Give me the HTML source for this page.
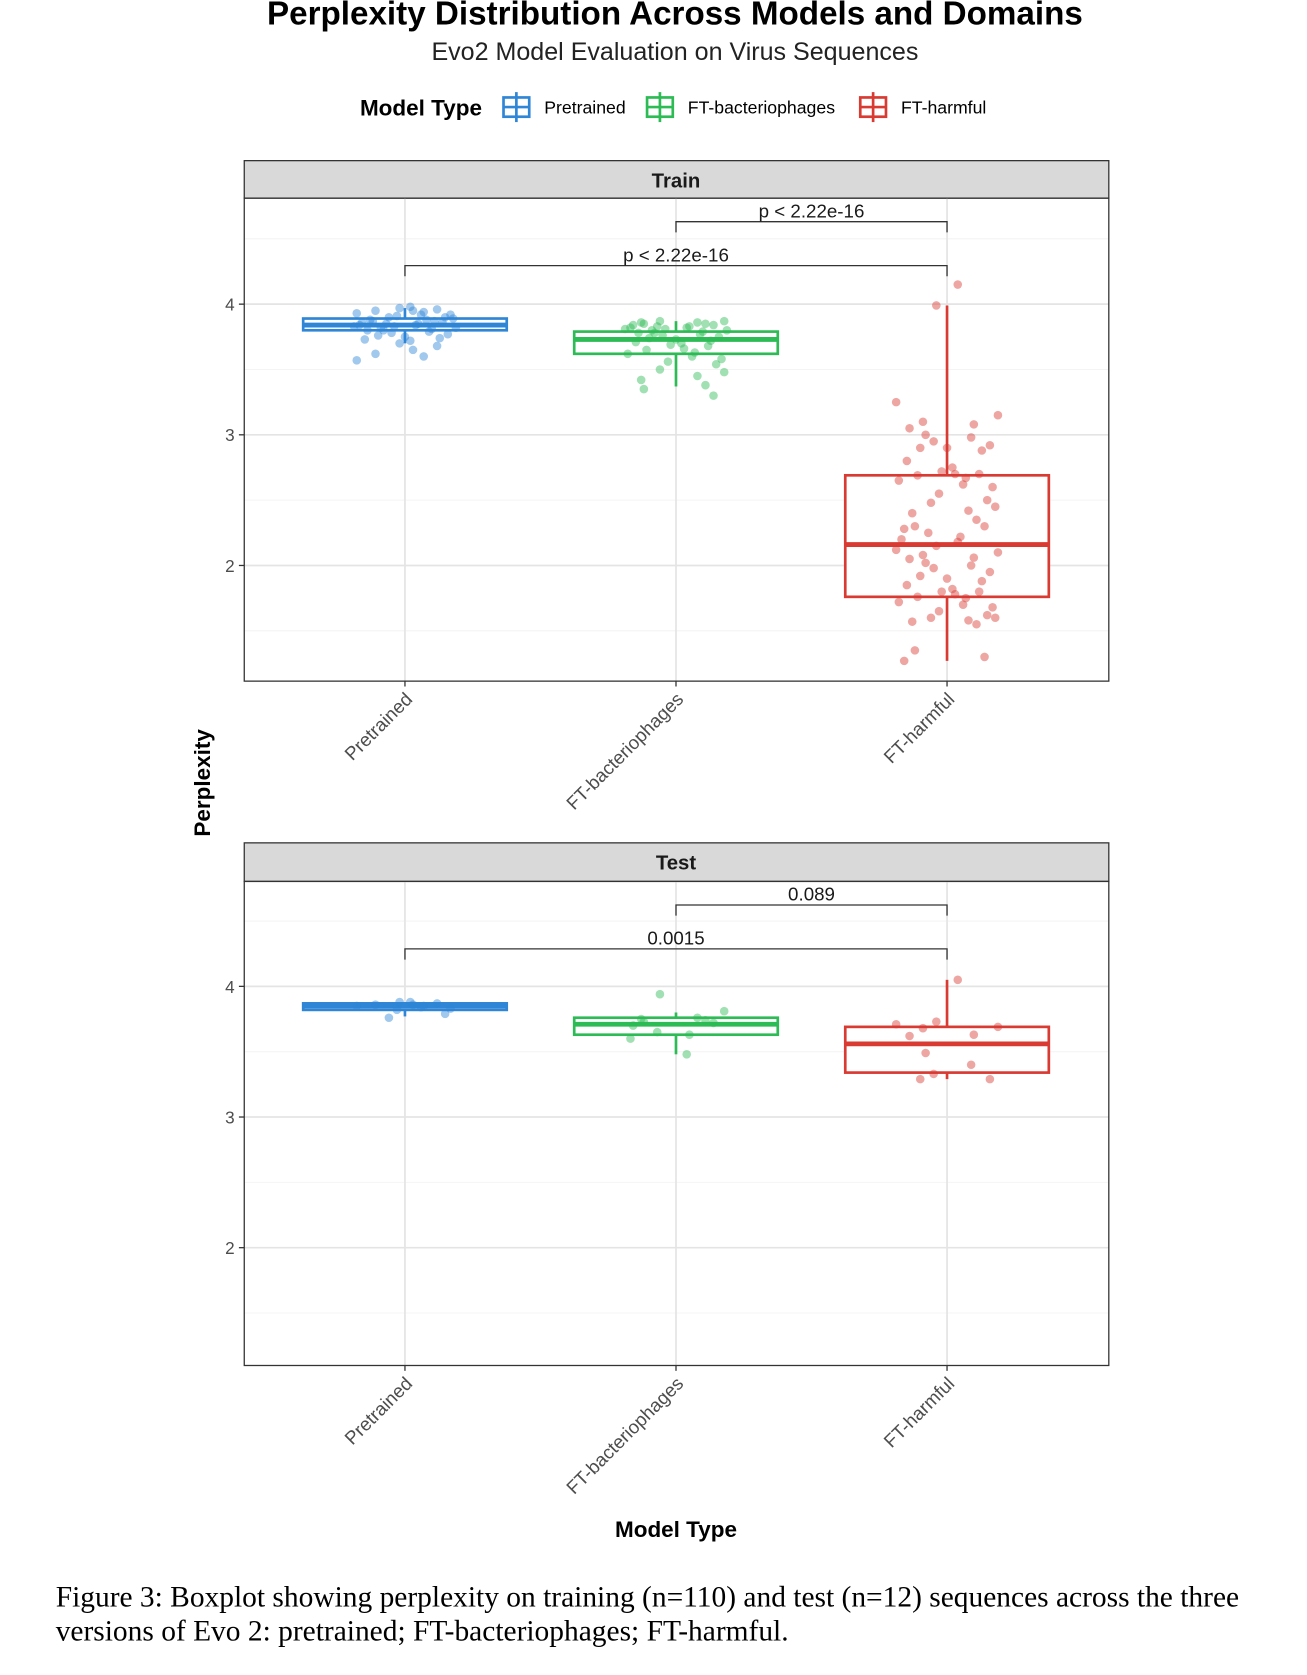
<!DOCTYPE html>
<html><head><meta charset="utf-8">
<style>
html,body{margin:0;padding:0;background:#fff;}
svg{display:block;}
text{font-family:"Liberation Sans",sans-serif;}
.cap{font-family:"Liberation Serif",serif;font-size:27.5px;fill:#000;}
</style></head>
<body>
<svg id="chart" width="1307" height="1675" viewBox="0 0 1220 1564" preserveAspectRatio="none" xmlns="http://www.w3.org/2000/svg">
<text x="630" y="23" text-anchor="middle" font-size="31" font-weight="bold">Perplexity Distribution Across Models and Domains</text>
<text x="630" y="56" text-anchor="middle" font-size="23.4" fill="#222">Evo2 Model Evaluation on Virus Sequences</text>
<g>
<text x="336" y="108" font-size="21" font-weight="bold">Model Type</text>
<g><rect x="470" y="91" width="24" height="18" fill="none" stroke="#2f86d6" stroke-width="2.5"/><line x1="482" y1="86" x2="482" y2="114" stroke="#2f86d6" stroke-width="2.5"/><line x1="470" y1="100" x2="494" y2="100" stroke="#2f86d6" stroke-width="2.5"/><text x="508" y="106" font-size="16.5">Pretrained</text></g>
<g><rect x="604" y="91" width="24" height="18" fill="none" stroke="#2dbb55" stroke-width="2.5"/><line x1="616" y1="86" x2="616" y2="114" stroke="#2dbb55" stroke-width="2.5"/><line x1="604" y1="100" x2="628" y2="100" stroke="#2dbb55" stroke-width="2.5"/><text x="642" y="106" font-size="16.5">FT-bacteriophages</text></g>
<g><rect x="803" y="91" width="24" height="18" fill="none" stroke="#d93a32" stroke-width="2.5"/><line x1="815" y1="86" x2="815" y2="114" stroke="#d93a32" stroke-width="2.5"/><line x1="803" y1="100" x2="827" y2="100" stroke="#d93a32" stroke-width="2.5"/><text x="841" y="106" font-size="16.5">FT-harmful</text></g>
</g>
<text transform="translate(196,731) rotate(-90)" text-anchor="middle" font-size="21" font-weight="bold">Perplexity</text>
<text x="631" y="1435" text-anchor="middle" font-size="21" font-weight="bold">Model Type</text>
<text class="cap" x="52" y="1500">Figure 3: Boxplot showing perplexity on training (n=110) and test (n=12) sequences across the three</text>
<text class="cap" x="52" y="1532">versions of Evo 2: pretrained; FT-bacteriophages; FT-harmful.</text>
</svg>
<script>
const categories = ["Pretrained", "FT-bacteriophages", "FT-harmful"];
const colors = ["#2f86d6", "#2dbb55", "#d93a32"];
const yTicks = [2, 3, 4];
// box stats: [lowWhisker, q1, median, q3, highWhisker]
const trainStats = [[3.70, 3.80, 3.84, 3.89, 3.97], [3.37, 3.62, 3.73, 3.79, 3.87], [1.27, 1.76, 2.16, 2.69, 3.99]];
const testStats = [[3.77, 3.82, 3.85, 3.87, 3.88], [3.48, 3.63, 3.71, 3.76, 3.80], [3.29, 3.34, 3.56, 3.69, 4.05]];
const trainPretrained = [3.98,3.97,3.96,3.95,3.95,3.94,3.93,3.92,3.92,3.91,3.90,3.90,3.89,3.88,3.88,3.87,3.87,3.86,3.86,3.85,3.85,3.84,3.84,3.83,3.83,3.82,3.82,3.81,3.80,3.80,3.79,3.78,3.77,3.76,3.75,3.74,3.73,3.72,3.70,3.68,3.65,3.62,3.60,3.57];
const trainBacteriophages = [3.87,3.87,3.86,3.86,3.85,3.85,3.84,3.84,3.83,3.83,3.82,3.82,3.81,3.81,3.80,3.80,3.79,3.78,3.78,3.77,3.76,3.75,3.74,3.73,3.72,3.71,3.70,3.69,3.68,3.66,3.65,3.63,3.62,3.60,3.58,3.56,3.54,3.50,3.48,3.45,3.42,3.38,3.35,3.30];
const trainHarmful = [4.15,3.99,3.25,3.15,3.10,3.08,3.05,3.00,2.98,2.95,2.92,2.90,2.90,2.88,2.80,2.75,2.72,2.70,2.70,2.69,2.67,2.65,2.62,2.60,2.55,2.50,2.48,2.45,2.42,2.40,2.35,2.30,2.30,2.28,2.25,2.22,2.20,2.18,2.15,2.12,2.10,2.08,2.06,2.05,2.02,2.00,1.98,1.95,1.92,1.90,1.88,1.85,1.82,1.80,1.80,1.78,1.76,1.75,1.72,1.70,1.68,1.65,1.62,1.60,1.60,1.58,1.57,1.55,1.35,1.30,1.27];
const testPretrained = [3.88,3.88,3.87,3.86,3.86,3.85,3.85,3.84,3.83,3.82,3.79,3.76];
const testBacteriophages = [3.94,3.81,3.76,3.75,3.74,3.73,3.72,3.70,3.65,3.63,3.60,3.48];
const testHarmful = [4.05,3.73,3.71,3.69,3.68,3.63,3.62,3.49,3.40,3.33,3.29,3.29];
const trainPLabels = ["p < 2.22e-16", "p < 2.22e-16"];
const testPLabels = ["0.089", "0.0015"];
const jitter = [0.1,-0.6,0.8,-0.3,0.5,-0.9,0.2,-0.1,0.7,-0.5,0.9,-0.7,0.3,-0.2,0.6,-0.8,0.0,0.4,-0.4,0.85,-0.95,0.15,-0.35,0.65,-0.65,0.45,-0.15,0.95,-0.55,0.25,-0.75,0.55,-0.25,0.75,-0.45,0.35,-0.85];

const NS = "http://www.w3.org/2000/svg";
const svg = document.getElementById("chart");
function mk(tag, attrs, parent) { const e = document.createElementNS(NS, tag); for (const k in attrs) e.setAttribute(k, attrs[k]); (parent || svg).appendChild(e); return e; }

function panel(name, stripTop, plotTop, plotBottom, y4, stats, pts, pLabels) {
  const L = 228, R = 1035;
  const unit = 122;
  const yS = v => y4 + (4 - v) * unit;
  const xS = i => 378 + i * 253;
  const g = mk("g", {});
  
  
  const strip = mk("rect", { x: L, y: stripTop, width: R - L, height: plotTop - stripTop, fill: "#d9d9d9", stroke: "#333", "stroke-width": 1.2 }, g);
  
  
  const st = mk("text", { x: 631, y: stripTop + 25, "text-anchor": "middle", "font-size": 19, "font-weight": "bold", fill: "#1a1a1a" }, g);
  st.textContent = name === "train" ? "Train" : "Test";
  
  
  [1.5, 2.5, 3.5, 4.5].forEach(v => { const yy = yS(v); if (yy > plotTop && yy < plotBottom) mk("line", { x1: L, x2: R, y1: yy, y2: yy, stroke: "#f4f4f4", "stroke-width": 1 }, g); });
  yTicks.forEach(v => {
    mk("line", { x1: L, x2: R, y1: yS(v), y2: yS(v), stroke: "#e4e4e4", "stroke-width": 1.6 }, g);
    mk("line", { x1: L - 5, x2: L, y1: yS(v), y2: yS(v), stroke: "#333", "stroke-width": 1.2 }, g);
    const t = mk("text", { x: L - 9, y: yS(v) + 6, "text-anchor": "end", "font-size": 16, fill: "#4d4d4d" }, g);
    t.textContent = v;
    
    
  });
  categories.forEach((c, i) => {
    mk("line", { x1: xS(i), x2: xS(i), y1: plotTop, y2: plotBottom, stroke: "#e4e4e4", "stroke-width": 1.6 }, g);
    mk("line", { x1: xS(i), x2: xS(i), y1: plotBottom, y2: plotBottom + 5, stroke: "#333", "stroke-width": 1.2 }, g);
    const t = mk("text", { x: 0, y: 0, "text-anchor": "end", "font-size": 17.5, fill: "#4d4d4d", transform: `translate(${xS(i) + 8},${plotBottom + 18}) rotate(-45)` }, g);
    t.textContent = c;
    
    
  });
  stats.forEach((s, i) => {
    const bg = mk("g", {}, g);
    
    
    const col = colors[i], x = xS(i), hw = 95;
    mk("line", { x1: x, x2: x, y1: yS(s[0]), y2: yS(s[1]), stroke: col, "stroke-width": 2.5 }, bg);
    mk("line", { x1: x, x2: x, y1: yS(s[3]), y2: yS(s[4]), stroke: col, "stroke-width": 2.5 }, bg);
    mk("rect", { x: x - hw, y: yS(s[3]), width: 2 * hw, height: Math.max(yS(s[1]) - yS(s[3]), 1), fill: "#fff", stroke: col, "stroke-width": 2.5 }, bg);
    mk("line", { x1: x - hw, x2: x + hw, y1: yS(s[2]), y2: yS(s[2]), stroke: col, "stroke-width": 4.5 }, bg);
    pts[i].forEach((v, k) => {
      const c = mk("circle", { cx: x + jitter[(k * 7 + i * 3) % jitter.length] * 50, cy: yS(v), r: 4, fill: col, "fill-opacity": 0.45 }, bg);
      
      
    });
  });
  mk("rect", { x: L, y: plotTop, width: R - L, height: plotBottom - plotTop, fill: "none", stroke: "#333", "stroke-width": 1.2 }, g);
  const br = [[1, 2, plotTop + 22], [0, 2, plotTop + 63]];
  br.forEach((b, j) => {
    const bg = mk("g", {}, g);
    
    
    const y = b[2];
    mk("path", { d: `M${xS(b[0])},${y + 10}V${y}H${xS(b[1])}V${y + 10}`, fill: "none", stroke: "#333", "stroke-width": 1.2 }, bg);
    const t = mk("text", { x: (xS(b[0]) + xS(b[1])) / 2, y: y - 4, "text-anchor": "middle", "font-size": 17.5, fill: "#1a1a1a" }, bg);
    t.textContent = pLabels[j];
  });
}
panel("train", 150, 185, 636, 284, trainStats, [trainPretrained, trainBacteriophages, trainHarmful], trainPLabels);
panel("test", 787, 823, 1275, 921, testStats, [testPretrained, testBacteriophages, testHarmful], testPLabels);
</script>
</body></html>
